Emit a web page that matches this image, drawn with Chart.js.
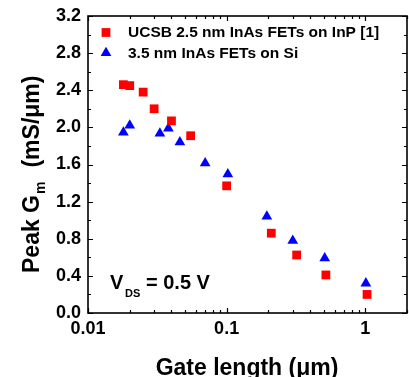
<!DOCTYPE html>
<html><head><meta charset="utf-8">
<script src="https://cdn.jsdelivr.net/npm/chart.js@4/dist/chart.umd.min.js"></script>
<style>html,body{margin:0;padding:0;background:#fff;overflow:hidden}canvas{display:block}</style>
</head><body>
<canvas id="c" width="409" height="377"></canvas>
<script>
// ---- data ----
const ucsbGateLength = [0.018, 0.02, 0.025, 0.03, 0.04, 0.055, 0.1, 0.21, 0.32, 0.52, 1.03];
const ucsbGm         = [2.46, 2.45, 2.38, 2.2, 2.07, 1.91, 1.37, 0.86, 0.625, 0.41, 0.2];
const siGateLength   = [0.018, 0.02, 0.033, 0.038, 0.046, 0.07, 0.102, 0.195, 0.3, 0.51, 1.01];
const siGm           = [1.945, 2.02, 1.935, 1.99, 1.84, 1.615, 1.495, 1.04, 0.78, 0.59, 0.32];
const seriesNames    = ['UCSB 2.5 nm InAs FETs on InP [1]', '3.5 nm InAs FETs on Si'];
const xTickLabels    = ['0.01', '0.1', '1'];
const yMin = 0, yMax = 3.2, yStep = 0.4;
const xMin = 0.01, xMax = 2;
const annotationMain = ['V', 'DS', '= 0.5 V'];
const yTitleParts = ['Peak G', 'm', '(mS/\u03bcm)'];
const xTitle = 'Gate length (\u03bcm)';

const FONT = '"Liberation Sans", Arial, sans-serif';
const RED = '#ff0000', BLUE = '#0000ff';

const toPts = (xs, ys) => xs.map((x, i) => ({x, y: ys[i]}));

const decor = {
  id: 'decor',
  afterDraw(chart) {
    const ctx = chart.ctx;
    const a = chart.chartArea;
    const xs = chart.scales.x, ys = chart.scales.y;
    ctx.save();
    ctx.strokeStyle = '#000';
    ctx.lineWidth = 1.6;
    ctx.strokeRect(a.left, a.top, a.right - a.left, a.bottom - a.top);
    ctx.lineWidth = 1.2;
    ctx.beginPath();
    for (let v = yMin; v <= yMax + 1e-9; v += yStep / 2) {
      const k = Math.round(v / (yStep / 2));
      const len = k % 2 === 0 ? 5 : 3;
      const py = Math.round(ys.getPixelForValue(v)) + 0.5;
      ctx.moveTo(a.left, py); ctx.lineTo(a.left + len, py);
      ctx.moveTo(a.right, py); ctx.lineTo(a.right - len, py);
    }
    for (let d = xMin; d <= xMax; d *= 10) {
      for (let m = 1; m <= 9; m++) {
        const v = d * m;
        if (v > xMax * 1.0001) break;
        const len = m === 1 ? 5 : 3;
        const px = Math.round(xs.getPixelForValue(v)) + 0.5;
        ctx.moveTo(px, a.bottom); ctx.lineTo(px, a.bottom - len);
        ctx.moveTo(px, a.top); ctx.lineTo(px, a.top + len);
      }
    }
    ctx.stroke();

    const legendItems = [
      {style: 'rect', color: RED, name: seriesNames[0], y: 32.5},
      {style: 'triangle', color: BLUE, name: seriesNames[1], y: 53}
    ];
    legendItems.forEach(it => {
      ctx.fillStyle = it.color;
      Chart.helpers.drawPoint(ctx, {pointStyle: it.style, radius: 6.2, borderWidth: 0, rotation: 0}, a.left + 18, it.y);
      ctx.fillStyle = '#000';
      ctx.font = 'bold 15.5px ' + FONT;
      ctx.textBaseline = 'middle';
      ctx.textAlign = 'left';
      ctx.fillText(it.name, a.left + 40, it.y + 0.5);
    });

    ctx.fillStyle = '#000';
    ctx.textBaseline = 'alphabetic';
    ctx.font = 'bold 20px ' + FONT;
    ctx.fillText(annotationMain[0], 110, 288.5);
    ctx.font = 'bold 11px ' + FONT;
    ctx.fillText(annotationMain[1], 125, 297);
    ctx.font = 'bold 20px ' + FONT;
    ctx.fillText(annotationMain[2], 146, 288.5);

    ctx.font = 'bold 23px ' + FONT;
    ctx.textAlign = 'center';
    ctx.fillText(xTitle, 247, 375);

    ctx.translate(39, 273);
    ctx.rotate(-Math.PI / 2);
    ctx.textAlign = 'left';
    ctx.font = 'bold 23px ' + FONT;
    let x0 = 0;
    ctx.fillText(yTitleParts[0], x0, 0);
    x0 += ctx.measureText(yTitleParts[0]).width + 1;
    ctx.font = 'bold 14px ' + FONT;
    ctx.fillText(yTitleParts[1], x0, 6);
    x0 += ctx.measureText(yTitleParts[1]).width;
    ctx.font = 'bold 23px ' + FONT;
    x0 += 14;
    ctx.fillText(yTitleParts[2], x0, 0);
    ctx.restore();
  }
};

new Chart(document.getElementById('c'), {
  type: 'scatter',
  data: {
    datasets: [
      {label: seriesNames[0], data: toPts(ucsbGateLength, ucsbGm), pointStyle: 'rect',
       backgroundColor: RED, borderColor: RED, borderWidth: 0, pointRadius: 6.2, pointHoverRadius: 6.2},
      {label: seriesNames[1], data: toPts(siGateLength, siGm), pointStyle: 'triangle',
       backgroundColor: BLUE, borderColor: BLUE, borderWidth: 0, pointRadius: 6.2, pointHoverRadius: 6.2}
    ]
  },
  options: {
    responsive: false, devicePixelRatio: 1, animation: false, events: [],
    layout: {autoPadding: false, padding: {top: 16, right: 2, left: 0, bottom: 0}},
    plugins: {legend: {display: false}, tooltip: {enabled: false}},
    scales: {
      x: {
        type: 'logarithmic', min: xMin, max: xMax,
        grid: {display: false, drawTicks: false}, border: {display: false},
        ticks: {
          autoSkip: false, maxRotation: 0, padding: 5, color: '#000',
          font: {family: FONT, size: 18, weight: 'bold'},
          callback: (v) => {
            const s = xTickLabels.find(t => Math.abs(parseFloat(t) - v) < 1e-9);
            return s === undefined ? '' : s;
          }
        },
        afterFit: (s) => { s.height = 64; s.paddingLeft = 0; s.paddingRight = 0; }
      },
      y: {
        min: yMin, max: yMax,
        grid: {display: false, drawTicks: false}, border: {display: false},
        ticks: {
          stepSize: yStep, padding: 7, color: '#000',
          font: {family: FONT, size: 18, weight: 'bold'},
          callback: (v) => Number(v).toFixed(1)
        },
        afterFit: (s) => { s.width = 88; s.paddingTop = 0; s.paddingBottom = 0; }
      }
    }
  },
  plugins: [decor]
});
</script>
</body></html>
